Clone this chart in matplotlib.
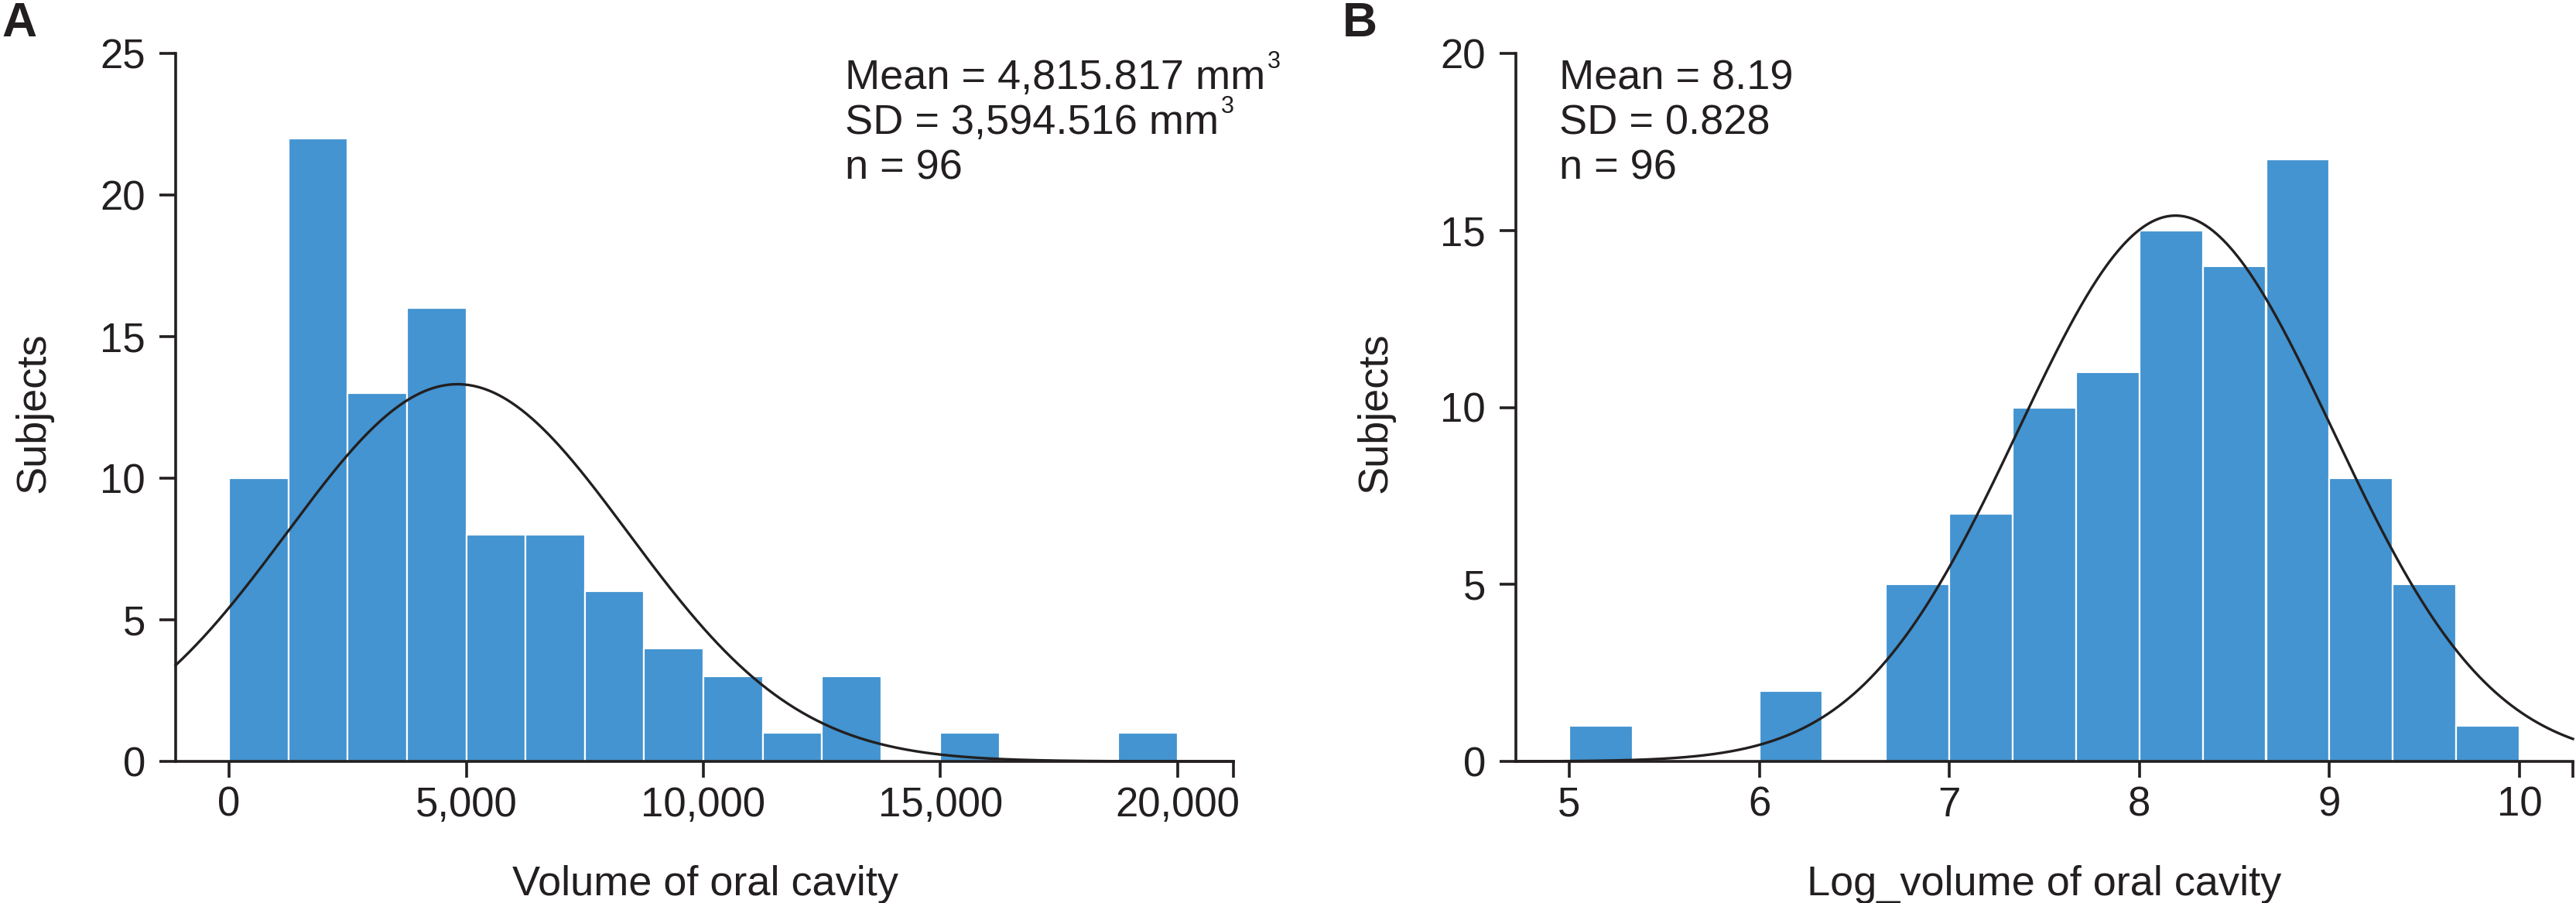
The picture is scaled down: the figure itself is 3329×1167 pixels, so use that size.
import numpy as np
import matplotlib.pyplot as plt
from matplotlib.ticker import FuncFormatter

plt.rcParams['font.family'] = ['Liberation Sans', 'DejaVu Sans']

INK = '#231f20'
BAR = '#4394d0'

# panel A: volume of oral cavity (mm3), bins of 1,250
vol_bin_start = [0, 1250, 2500, 3750, 5000, 6250, 7500, 8750, 10000,
                 11250, 12500, 13750, 15000, 16250, 17500, 18750]
vol_counts = [10, 22, 13, 16, 8, 8, 6, 4, 3, 1, 3, 0, 1, 0, 0, 1]
vol_width = 1250
vol_mean, vol_sd = 4815.817, 3594.516
vol_ticks = [0, 5000, 10000, 15000, 20000]

# panel B: log volume, bins of 1/3
log_bin_start = [5.0, 5.333, 5.667, 6.0, 6.333, 6.667, 7.0, 7.333,
                 7.667, 8.0, 8.333, 8.667, 9.0, 9.333, 9.667]
log_counts = [1, 0, 0, 2, 0, 5, 7, 10, 11, 15, 14, 17, 8, 5, 1]
log_width = 1 / 3
log_mean, log_sd = 8.19, 0.828
log_ticks = [5, 6, 7, 8, 9, 10]

n_subj = 96

W, H = 3330, 1167
fig = plt.figure(figsize=(W / 100, H / 100), dpi=100)


def px_axes(left, right, top, bottom):
    return fig.add_axes([left / W, 1 - bottom / H, (right - left) / W, (bottom - top) / H])


def style(ax, xlim, ylim, yticks):
    ax.set_xlim(*xlim)
    ax.set_ylim(*ylim)
    ax.set_yticks(yticks)
    for s in ['top', 'right']:
        ax.spines[s].set_visible(False)
    for s in ['left', 'bottom']:
        ax.spines[s].set_linewidth(2.6)
        ax.spines[s].set_color(INK)
    ax.tick_params(axis='both', which='both', direction='out', length=15, width=2.6,
                   color=INK, labelcolor=INK, labelsize=38)
    ax.tick_params(axis='y', pad=13)
    ax.tick_params(axis='x', pad=8)
    # end cap on the right of the x axis
    ax.set_xticks([xlim[1]], minor=True)
    ax.xaxis.set_tick_params(which='minor', labelbottom=False)


def normal_curve(ax, xlim, mean, sd, width):
    xs = np.linspace(xlim[0], xlim[1], 600)
    ys = n_subj * width * np.exp(-0.5 * ((xs - mean) / sd) ** 2) / (sd * np.sqrt(2 * np.pi))
    ax.plot(xs, ys, color=INK, lw=2.4, clip_on=False, zorder=3)


# ---- panel A
axA = px_axes(227, 1594, 69, 984)
xlimA = (-1126, 21175)
axA.bar(vol_bin_start, vol_counts, width=vol_width, align='edge',
        color=BAR, edgecolor='white', linewidth=1.6, zorder=2)
normal_curve(axA, xlimA, vol_mean, vol_sd, vol_width)
style(axA, xlimA, (0, 25), [0, 5, 10, 15, 20, 25])
axA.set_xticks(vol_ticks)
axA.xaxis.set_major_formatter(FuncFormatter(lambda v, p: f'{v:,.0f}'))

# ---- panel B
axB = px_axes(1959, 3325, 69, 984)
xlimB = (4.719, 10.281)
axB.bar(log_bin_start, log_counts, width=log_width, align='edge',
        color=BAR, edgecolor='white', linewidth=1.6, zorder=2)
normal_curve(axB, xlimB, log_mean, log_sd, log_width)
style(axB, xlimB, (0, 20), [0, 5, 10, 15, 20])
axB.set_xticks(log_ticks)


def ftext(x, y, s, **kw):
    kw.setdefault('color', INK)
    return fig.text(x / W, 1 - y / H, s, **kw)


# axis labels
ftext(44, 533, 'Subjects', rotation=90, ha='center', va='center', fontsize=39)
ftext(1778, 533, 'Subjects', rotation=90, ha='center', va='center', fontsize=39)
ftext(912, 1157, 'Volume of oral cavity', ha='center', va='baseline', fontsize=39)
ftext(2642, 1157, 'Log_volume of oral cavity', ha='center', va='baseline', fontsize=39)

# panel letters
ftext(2, 47, 'A', ha='left', va='baseline', fontsize=45, fontweight='bold',
      family=['Liberation Sans Narrow', 'Liberation Sans'])
ftext(1735, 47, 'B', ha='left', va='baseline', fontsize=45, fontweight='bold',
      family=['Liberation Sans Narrow', 'Liberation Sans'])

# statistics boxes
linesA = ['Mean = 4,815.817 mm', 'SD = 3,594.516 mm', 'n = 96']
linesB = ['Mean = 8.19', 'SD = 0.828', 'n = 96']
baselines = [115, 173, 232]
for i, (la, lb) in enumerate(zip(linesA, linesB)):
    t = ftext(1092, baselines[i], la, ha='left', va='baseline', fontsize=39)
    if la.endswith('mm'):
        fig.canvas.draw()
        axA.annotate('3', xy=(1.0, 1.0), xycoords=t, xytext=(2, 8), textcoords='offset points',
                     ha='left', va='top', fontsize=22, color=INK, annotation_clip=False)
    ftext(2015, baselines[i], lb, ha='left', va='baseline', fontsize=39)

fig.savefig('out.png', dpi=100, facecolor='white')
